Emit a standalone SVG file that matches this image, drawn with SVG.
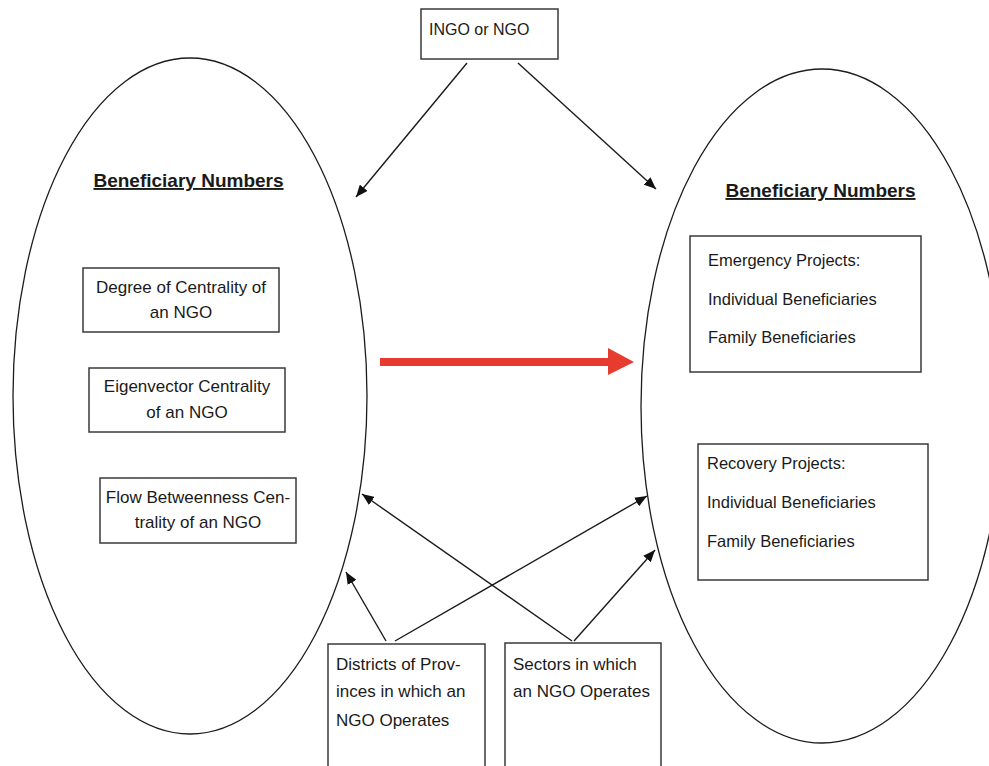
<svg xmlns="http://www.w3.org/2000/svg" width="989" height="766" viewBox="0 0 989 766">
  <style>
    .outline { fill: none; stroke: #1c1c1c; stroke-width: 1.3; }
    .box { fill: #ffffff; stroke: #3a3a3a; stroke-width: 1.5; }
    .txt { font-family: "Liberation Sans", Arial, sans-serif; fill: #1a1a1a; }
    .c17 { font-size: 17px; text-anchor: middle; }
    .l17 { font-size: 17px; }
    .r16 { font-size: 16.5px; }
    .head { font-size: 19px; font-weight: bold; text-decoration: underline; text-anchor: middle; }
    .link { fill: none; stroke: #1a1a1a; stroke-width: 1.4; marker-end: url(#ah); }
  </style>
  <defs>
    <marker id="ah" viewBox="0 0 12 10" refX="12" refY="5" markerWidth="12" markerHeight="10" markerUnits="userSpaceOnUse" orient="auto">
      <path d="M0,0 L12,5 L0,10 z" fill="#111111"/>
    </marker>
  </defs>
  <rect width="989" height="766" fill="#ffffff"/>

  <!-- left grouping: network centrality measures -->
  <g id="left-ellipse">
    <ellipse class="outline" cx="190" cy="396" rx="177" ry="338"/>
    <text class="txt head" x="188.5" y="187">Beneficiary Numbers</text>
  </g>

  <!-- right grouping: beneficiary outcomes -->
  <g id="right-ellipse">
    <ellipse class="outline" cx="822" cy="406" rx="181" ry="337"/>
    <text class="txt head" x="820.5" y="197">Beneficiary Numbers</text>
  </g>

  <g id="ingo">
    <rect class="box" x="421" y="9" width="137" height="50"/>
    <text class="txt" x="429" y="35" font-size="16">INGO or NGO</text>
  </g>

  <g id="degree">
    <rect class="box" x="83" y="268" width="196" height="64"/>
    <text class="txt c17" x="181" y="293">Degree of Centrality of</text>
    <text class="txt c17" x="181" y="318">an NGO</text>
  </g>

  <g id="eigenvector">
    <rect class="box" x="89" y="368" width="196" height="64"/>
    <text class="txt c17" x="187" y="392">Eigenvector Centrality</text>
    <text class="txt c17" x="187" y="418">of an NGO</text>
  </g>

  <g id="flow">
    <rect class="box" x="100" y="478" width="196" height="65"/>
    <text class="txt c17" x="198" y="503">Flow Betweenness Cen-</text>
    <text class="txt c17" x="198" y="528">trality of an NGO</text>
  </g>

  <g id="emergency">
    <rect class="box" x="690" y="236" width="231" height="136"/>
    <text class="txt r16" x="708" y="266">Emergency Projects:</text>
    <text class="txt r16" x="708" y="305">Individual Beneficiaries</text>
    <text class="txt r16" x="708" y="343">Family Beneficiaries</text>
  </g>

  <g id="recovery">
    <rect class="box" x="698" y="444" width="230" height="136"/>
    <text class="txt r16" x="707" y="469">Recovery Projects:</text>
    <text class="txt r16" x="707" y="508">Individual Beneficiaries</text>
    <text class="txt r16" x="707" y="547">Family Beneficiaries</text>
  </g>

  <g id="districts">
    <rect class="box" x="328" y="644" width="157" height="140"/>
    <text class="txt l17" x="336" y="670">Districts of Prov-</text>
    <text class="txt l17" x="336" y="697">inces in which an</text>
    <text class="txt l17" x="336" y="726">NGO Operates</text>
  </g>

  <g id="sectors">
    <rect class="box" x="505" y="643" width="156" height="140"/>
    <text class="txt l17" x="513" y="670">Sectors in which</text>
    <text class="txt l17" x="513" y="697">an NGO Operates</text>
  </g>

  <g id="connectors">
    <line class="link" x1="467" y1="63" x2="356" y2="197"/>
    <line class="link" x1="518" y1="63" x2="656" y2="189"/>
    <line class="link" x1="386" y1="641" x2="346" y2="572"/>
    <line class="link" x1="395" y1="641" x2="647" y2="496"/>
    <line class="link" x1="572" y1="641" x2="362" y2="494"/>
    <line class="link" x1="574" y1="641" x2="655" y2="550"/>
    <!-- main effect arrow -->
    <path d="M380,358 L608,358 L608,348 L634,362 L608,375 L608,366 L380,366 Z" fill="#e63b2e"/>
  </g>
</svg>
